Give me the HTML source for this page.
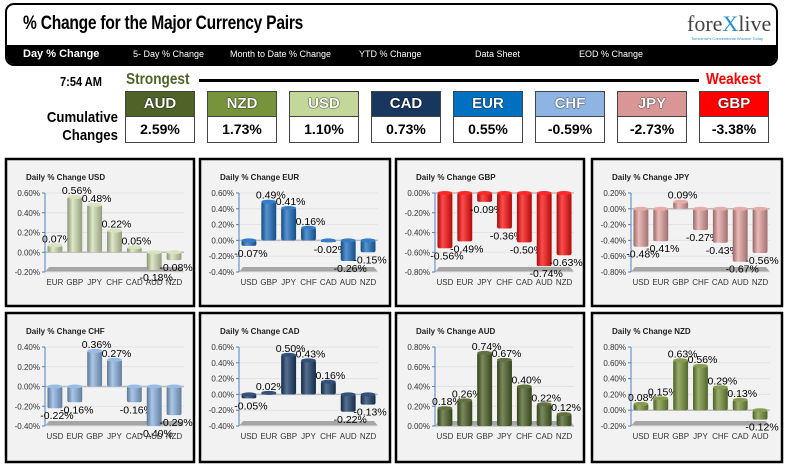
<!DOCTYPE html>
<html><head><meta charset="utf-8"><style>
body{margin:0;width:791px;height:465px;background:#fff;font-family:"Liberation Sans",sans-serif;position:relative;overflow:hidden}
.abs{position:absolute}
.hdr{left:5px;top:3px;width:769px;height:59px;border:2px solid #000;border-radius:9px;overflow:hidden;background:#fff}
.title{left:16px;top:8px;font-size:19px;font-weight:bold;transform:scaleX(0.82);transform-origin:left;letter-spacing:-0.3px}
.nav{left:0;top:40px;width:100%;height:20px;background:#000}
.nav span{position:absolute;top:4px;color:#fff;font-size:9px;white-space:nowrap}
.cur{width:68px;height:24px;border:1px solid #444;text-align:center;font-weight:bold;font-size:15px;line-height:24px;color:#fff;text-shadow:0 0 1px #000,0 0 1px #000}
.val{width:68px;height:25px;border:1px solid #444;text-align:center;font-weight:bold;font-size:14px;line-height:25px;color:#000;background:#fff}
.cond{transform:scaleX(0.85);transform-origin:left;font-weight:bold}
</style></head><body>
<div class="abs hdr">
 <div class="abs title">% Change for the Major Currency Pairs</div>
 <div class="abs" style="left:680px;top:6px;font-family:'Liberation Serif',serif;font-size:22px;color:#444">fore<span style="color:#2a8fd0">X</span>live</div>
 <div class="abs" style="left:684px;top:31px;font-size:4px;color:#2a8fd0">Tomorrow's Conventional Wisdom Today</div>
 <div class="abs nav">
  <span style="left:16px;font-size:11px;font-weight:bold;top:3px">Day % Change</span>
  <span style="left:126px">5- Day % Change</span>
  <span style="left:223px">Month to Date % Change</span>
  <span style="left:352px">YTD % Change</span>
  <span style="left:468px">Data Sheet</span>
  <span style="left:572px">EOD % Change</span>
 </div>
</div>
<div class="abs cond" style="left:60px;top:74px;font-size:13px">7:54 AM</div>
<div class="abs cond" style="left:126px;top:71px;font-size:16px;color:#4f6228">Strongest</div>
<div class="abs" style="left:199px;top:79px;width:500px;height:3px;background:#000"></div>
<div class="abs cond" style="left:706px;top:71px;font-size:16px;color:#f00">Weakest</div>
<div class="abs" style="left:30px;top:109px;font-size:15px;font-weight:bold;text-align:right;width:88px;line-height:18px;transform:scaleX(0.88);transform-origin:right">Cumulative Changes</div>
<div id="cum"></div>
<svg id="charts" class="abs" style="left:0;top:0" width="791" height="465"></svg>
<script>
const curNames=["AUD","NZD","USD","CAD","EUR","CHF","JPY","GBP"];
const curVals=["2.59%","1.73%","1.10%","0.73%","0.55%","-0.59%","-2.73%","-3.38%"];
const curColors=["#4f6228","#77933c","#c4d79b","#17375e","#0070c0","#8db4e2","#da9694","#ff0000"];
const cum=document.getElementById('cum');
curNames.forEach((n,i)=>{
 const x=125+i*82;
 const h=document.createElement('div');h.className='abs cur';h.style.left=x+'px';h.style.top='91px';h.style.background=curColors[i];h.textContent=n;
 
 
 const v=document.createElement('div');v.className='abs val';v.style.left=x+'px';v.style.top='116px';v.textContent=curVals[i];
 
 
 cum.appendChild(h);cum.appendChild(v);
});

const panelTitles=["USD","EUR","GBP","JPY","CHF","CAD","AUD","NZD"];
const cats=[
 ["EUR","GBP","JPY","CHF","CAD","AUD","NZD"],
 ["USD","GBP","JPY","CHF","CAD","AUD","NZD"],
 ["USD","EUR","JPY","CHF","CAD","AUD","NZD"],
 ["USD","EUR","GBP","CHF","CAD","AUD","NZD"],
 ["USD","EUR","GBP","JPY","CAD","AUD","NZD"],
 ["USD","EUR","GBP","JPY","CHF","AUD","NZD"],
 ["USD","EUR","GBP","JPY","CHF","CAD","NZD"],
 ["USD","EUR","GBP","JPY","CHF","CAD","AUD"]];
const usdVals=[0.07,0.56,0.48,0.22,0.05,-0.18,-0.08];
const eurVals=[-0.07,0.49,0.41,0.16,-0.02,-0.26,-0.15];
const gbpVals=[-0.56,-0.49,-0.09,-0.36,-0.50,-0.74,-0.63];
const jpyVals=[-0.48,-0.41,0.09,-0.27,-0.43,-0.67,-0.56];
const chfVals=[-0.22,-0.16,0.36,0.27,-0.16,-0.40,-0.29];
const cadVals=[-0.05,0.02,0.50,0.43,0.16,-0.22,-0.13];
const audVals=[0.18,0.26,0.74,0.67,0.40,0.22,0.12];
const nzdVals=[0.08,0.15,0.63,0.56,0.29,0.13,-0.12];
const series=[usdVals,eurVals,gbpVals,jpyVals,chfVals,cadVals,audVals,nzdVals];
const yMins=[-0.2,-0.4,-0.8,-0.8,-0.4,-0.4,0,-0.2];
const yMaxs=[0.6,0.6,0,0.2,0.4,0.6,0.8,0.8];
const barColors=["#d3e0b4","#1f70c1","#ff1010","#e3a3a1","#8db4e2","#1c3f6b","#4f6228","#77933c"];

const NS="http://www.w3.org/2000/svg";
const svg=document.getElementById('charts');
function el(t,a,p){const e=document.createElementNS(NS,t);for(const k in a)e.setAttribute(k,a[k]);(p||svg).appendChild(e);return e;}
const defs=el('defs',{});
function shade(hex,f){const n=parseInt(hex.slice(1),16);let r=n>>16,g=(n>>8)&255,b=n&255;
 const m=c=>Math.max(0,Math.min(255,Math.round(f>0?c+(255-c)*f:c*(1+f))));return `rgb(${m(r)},${m(g)},${m(b)})`;}
const pL=[6,200,396,592],pW=[188,190,188,190],pT=[159,313],pH=[147,149];
series.forEach((vals,i)=>{
 const col=i%4,row=Math.floor(i/4);
 const L=pL[col],T=pT[row];
 const g=el('g',{});
 
 
 const r=el('rect',{x:L,y:T,width:pW[col],height:pH[row],fill:'#f2f2f2',stroke:'#000','stroke-width':2.5},g);
 
 
 const t=el('text',{x:L+20,y:T+21,'font-size':8,'font-weight':'bold',fill:'#222'},g);t.textContent='Daily % Change '+panelTitles[i];
 
 
 const ax=L+39,top=T+34,bot=T+113,right=L+178;
 const ymin=yMins[i],ymax=yMaxs[i];
 const ys=v=>bot-(v-ymin)/(ymax-ymin)*(bot-top);
 const bw=(right-ax)/7;
 const xs=k=>ax+bw*(k+0.5);
 el('polygon',{points:`${ax},${bot} ${right},${bot} ${right-4},${bot-5} ${ax+4},${bot-5}`,fill:'#a6a6a6'},g);
 for(let v=ymin;v<=ymax+1e-9;v+=0.2){
  const y=ys(v);
  el('line',{x1:ax,x2:right,y1:y,y2:y,stroke:Math.abs(v)<1e-9?'#bbb':'#e2e2e2','stroke-width':Math.abs(v)<1e-9?1.5:1},g);
  el('line',{x1:ax-3,x2:ax,y1:y,y2:y,stroke:'#4f81bd'},g);
  const tl=el('text',{x:ax-5,y:y+3,'font-size':8,'text-anchor':'end',fill:'#333'},g);
  tl.textContent=v.toFixed(2).replace('-0.00','0.00')+'%';
  
  
 }
 el('line',{x1:ax,x2:ax,y1:top,y2:bot,stroke:'#4f81bd'},g);
 const gid='grad'+i;
 const lg=el('linearGradient',{id:gid,x1:0,x2:1,y1:0,y2:0},defs);
 el('stop',{offset:'0','stop-color':shade(barColors[i],-0.35)},lg);
 el('stop',{offset:'0.35','stop-color':shade(barColors[i],0.25)},lg);
 el('stop',{offset:'1','stop-color':shade(barColors[i],-0.3)},lg);
 const z=ys(Math.max(ymin,0));
 vals.forEach((v,k)=>{
  const cx=xs(k),w=bw*0.75,y=ys(v);
  const y0=Math.min(y,z),y1=Math.max(y,z);
  const b=el('rect',{x:cx-w/2,y:y0,width:w,height:Math.max(y1-y0,1),fill:`url(#${gid})`,rx:2},g);
  
  
  el('ellipse',{cx:cx,cy:y0,rx:w/2,ry:2,fill:shade(barColors[i],0.1)},g);
  const lbl=el('text',{x:cx+2,y:v>=0?y-3:y+11,'font-size':10.5,'text-anchor':'middle',fill:'#000'},g);
  lbl.textContent=v.toFixed(2)+'%';
  
  
  const xl=el('text',{x:cx,y:bot+13,'font-size':8,'text-anchor':'middle',fill:'#333'},g);
  xl.textContent=cats[i][k];
  
  
 });
});
</script>
</body></html>
